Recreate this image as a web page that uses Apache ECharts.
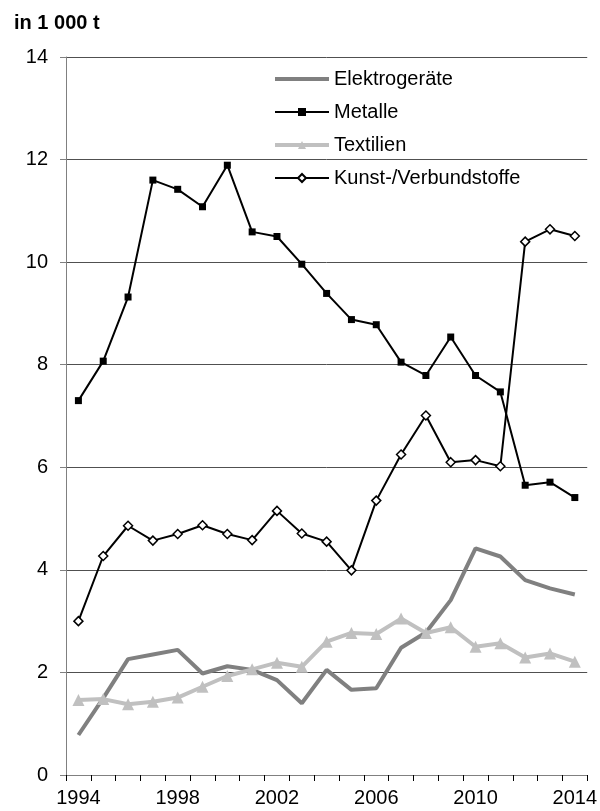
<!DOCTYPE html>
<html>
<head>
<meta charset="utf-8">
<script src="https://cdn.jsdelivr.net/npm/echarts@6/dist/echarts.min.js"></script>
<style>
html,body{margin:0;padding:0;background:#fff;}
#chart{width:600px;height:811px;}
</style>
</head>
<body>
<div id="chart"></div>
<script>
var years = ['1994','1995','1996','1997','1998','1999','2000','2001','2002','2003','2004','2005','2006','2007','2008','2009','2010','2011','2012','2013','2014'];
var elektrogeraete = [0.78,1.50,2.26,2.35,2.44,1.98,2.12,2.05,1.85,1.40,2.05,1.66,1.69,2.48,2.78,3.41,4.42,4.26,3.80,3.64,3.52];
var metalle = [7.30,8.07,9.32,11.60,11.42,11.08,11.89,10.59,10.50,9.96,9.39,8.88,8.78,8.05,7.79,8.54,7.79,7.47,5.65,5.71,5.41];
var textilien = [1.46,1.48,1.38,1.43,1.51,1.72,1.93,2.06,2.19,2.11,2.60,2.77,2.75,3.05,2.77,2.88,2.50,2.57,2.29,2.37,2.21];
var kunststoffe = [3.00,4.27,4.86,4.57,4.70,4.87,4.70,4.58,5.15,4.71,4.55,3.99,5.35,6.25,7.01,6.10,6.14,6.02,10.40,10.64,10.51];
var seriesNames = ['Elektrogeräte','Metalle','Textilien','Kunst-/Verbundstoffe'];
var unitLabel = 'in 1 000 t';

var FONT = 'Liberation Sans, Arial, sans-serif';
var chart = echarts.init(document.getElementById('chart'), null, {renderer:'canvas'});
chart.setOption({
  animation:false,
  backgroundColor:'#fff',
  title:{text:unitLabel,left:9,top:8,textStyle:{fontFamily:FONT,fontSize:20,fontWeight:'bold',color:'#000'}},
  legend:{
    orient:'vertical',left:268,top:64,itemWidth:54,itemHeight:10,itemGap:13,
    textStyle:{fontFamily:FONT,fontSize:20,color:'#000',lineHeight:20},
    data:[
      {name:seriesNames[0],itemStyle:{opacity:0},lineStyle:{width:4,color:'#808080'}},
      {name:seriesNames[1],lineStyle:{width:2,color:'#000'}},
      {name:seriesNames[2],lineStyle:{width:4,color:'#c0c0c0'}},
      {name:seriesNames[3],lineStyle:{width:2,color:'#000'}}
    ]
  },
  grid:{left:66,right:10,top:57,bottom:36,containLabel:false},
  xAxis:{
    type:'category',data:years,boundaryGap:true,
    axisLine:{lineStyle:{color:'#808080',width:1}},
    axisTick:{show:true,interval:0,length:6,lineStyle:{color:'#000'}},
    axisLabel:{interval:3,margin:13,fontFamily:FONT,fontSize:20,color:'#000'},
    splitLine:{show:false}
  },
  yAxis:{
    type:'value',min:0,max:14,interval:2,
    axisLine:{show:true,lineStyle:{color:'#808080',width:1}},
    axisTick:{show:true,length:6,lineStyle:{color:'#808080'}},
    axisLabel:{margin:18,fontFamily:FONT,fontSize:20,color:'#000'},
    splitLine:{show:true,lineStyle:{color:'#505050',width:1}}
  },
  series:[
    {name:seriesNames[0],type:'line',data:elektrogeraete,symbol:'none',
     lineStyle:{color:'#808080',width:4},itemStyle:{color:'#808080'}},
    {name:seriesNames[1],type:'line',data:metalle,symbol:'rect',symbolSize:7,
     lineStyle:{color:'#000',width:2},itemStyle:{color:'#000'}},
    {name:seriesNames[2],type:'line',data:textilien,symbol:'triangle',symbolSize:12,
     lineStyle:{color:'#c0c0c0',width:4},itemStyle:{color:'#c0c0c0'}},
    {name:seriesNames[3],type:'line',data:kunststoffe,symbol:'diamond',symbolSize:9,
     lineStyle:{color:'#000',width:2},itemStyle:{color:'#fff',borderColor:'#000',borderWidth:1.5}}
  ]
});
</script>
</body>
</html>
